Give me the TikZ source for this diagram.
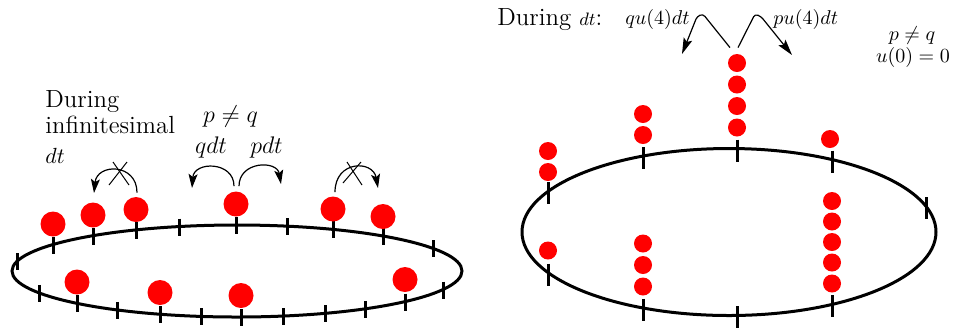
\documentclass[tikz,border=0pt]{standalone}
\usetikzlibrary{arrows.meta}
\begin{document}
\begin{tikzpicture}[x=0.5pt,y=-0.5pt,
  ring/.style={line width=1.5pt},
  tickmark/.style={line width=1.5pt},
  ballL/.style={circle,fill=red,inner sep=0pt,minimum size=12.5pt},
  ballR/.style={circle,fill=red,inner sep=0pt,minimum size=9pt},
  hop/.style={line width=0.6pt,-{Stealth[length=7pt,width=4.5pt,inset=1.5pt]}},
  jump/.style={line width=0.6pt,rounded corners=1.5pt,-{Stealth[length=8pt,width=4.5pt,inset=1.5pt]}},
  crossline/.style={line width=0.5pt},
  lbl/.style={inner sep=0pt},
  bigtext/.style={font=\fontsize{12.4}{14}\selectfont},
  midmath/.style={font=\fontsize{12}{14}\selectfont},
  smallmath/.style={font=\fontsize{10}{12}\selectfont}]
\useasboundingbox (0,0) rectangle (953,329);

% ---------------- left ring ----------------
\draw[ring] (237,271) ellipse [x radius=112.5pt, y radius=23pt];
\foreach \x in {17,53,93,136,179,236,287,333,383,433} {
  \pgfmathsetmacro\ey{271-46*sqrt(1-((\x-237)/225)^2)}
  \draw[tickmark] (\x,\ey-8) -- (\x,\ey+9);
}
\foreach \x in {39,77,117,160,201,241,283,325,365,405,443} {
  \pgfmathsetmacro\ey{271+46*sqrt(1-((\x-237)/225)^2)}
  \draw[tickmark] (\x,\ey-8) -- (\x,\ey+9);
}
% particles
\node[ballL] (La) at (53,224) {};
\node[ballL] (Lb) at (93,215) {};
\node[ballL] (Lc) at (136,209.5) {};
\node[ballL] (Ld) at (236,204) {};
\node[ballL] (Le) at (333,209) {};
\node[ballL] (Lf) at (383,216.5) {};
\node[ballL] (Lg) at (77,282) {};
\node[ballL] (Lh) at (160,292.5) {};
\node[ballL] (Li) at (241,295.5) {};
\node[ballL] (Lj) at (405,279.5) {};

% hops
\coordinate (LcEnd) at (94,193);
\draw[hop] ([xshift=0.5pt,yshift=2pt]Lc.north) .. controls (137,163) and (97,163) .. (LcEnd);
\draw[crossline] (113,162) -- (129,185);
\draw[crossline] (127,162) -- (109,185);

\coordinate (LdL) at (192,188);
\coordinate (LdR) at (281,184);
\draw[hop] ([xshift=-1pt,yshift=2.5pt]Ld.north) .. controls (234,161) and (194,161) .. (LdL);
\draw[hop] ([xshift=1.5pt,yshift=2.5pt]Ld.north) .. controls (239,161) and (277,160) .. (LdR);

\coordinate (LeEnd) at (378,188);
\draw[hop] ([xshift=1pt,yshift=2pt]Le.north) .. controls (335,160) and (373,160) .. (LeEnd);
\draw[crossline] (347,162) -- (362,185);
\draw[crossline] (361,162) -- (343,183);

% labels left
\node[lbl,bigtext,anchor=base west] (tDuring) at (45,107) {During};
\node[lbl,bigtext,anchor=base west] (tInf) at (45,133) {infinitesimal};
\node[lbl,anchor=base west,font=\fontsize{10.5}{12}\selectfont] (tdt) at (45,163) {$dt$};
\node[lbl,midmath,anchor=base] (tpq) at (230.5,122) {$p\neq q$};
\node[lbl,midmath,anchor=base] (tqdt) at (211,153) {$qdt$};
\node[lbl,midmath,anchor=base] (tpdt) at (266.5,153) {$pdt$};

% ---------------- right ring ----------------
\draw[ring] (729,232) ellipse [x radius=103.5pt, y radius=41.75pt];
\foreach \x in {548,643,737,832,926} {
  \pgfmathsetmacro\ey{232-83.5*sqrt(1-((\x-729)/207)^2)}
  \draw[tickmark] (\x,\ey-9) -- (\x,\ey+13);
}
\foreach \x in {548,643,737,832} {
  \pgfmathsetmacro\ey{232+83.5*sqrt(1-((\x-729)/207)^2)}
  \draw[tickmark] (\x,\ey-9) -- (\x,\ey+13);
}
% stacks
\node[ballR] (Ra1) at (548,172) {};
\node[ballR] (Ra2) at (548,151) {};
\node[ballR] (Rb1) at (548,250.5) {};
\node[ballR] (Rc1) at (643,135) {};
\node[ballR] (Rc2) at (643,114) {};
\node[ballR] (Rd1) at (643,286.5) {};
\node[ballR] (Rd2) at (643,265) {};
\node[ballR] (Rd3) at (643,243.5) {};
\node[ballR] (Re1) at (737,127.5) {};
\node[ballR] (Re2) at (737,106) {};
\node[ballR] (Re3) at (737,84.5) {};
\node[ballR] (Re4) at (737,63) {};
\node[ballR] (Rf1) at (830,139) {};
\node[ballR] (Rg1) at (832,283.5) {};
\node[ballR] (Rg2) at (832,262.5) {};
\node[ballR] (Rg3) at (832,242) {};
\node[ballR] (Rg4) at (832,221.5) {};
\node[ballR] (Rg5) at (832,201) {};

% jumps from the top of the 4-stack
\coordinate (JL) at (682,54);
\coordinate (JR) at (792,55);
\draw[jump] ([xshift=-3.5pt,yshift=3pt]Re4.north) -- (703,14) -- (697,16.5) -- (JL);
\draw[jump] ([xshift=0.5pt,yshift=3pt]Re4.north) -- (755,14) -- (761,16.5) -- (JR);

% labels right
\node[lbl,bigtext,anchor=base west] (tDuring2) at (497,25) {During {\fontsize{9}{11}\selectfont$dt$}:};
\node[lbl,smallmath,anchor=base east] (tqu) at (690,24) {$qu(4)dt$};
\node[lbl,smallmath,anchor=base west] (tpu) at (773,24) {$pu(4)dt$};
\node[lbl,smallmath,anchor=base] (tpq2) at (912,40) {$p\neq q$};
\node[lbl,smallmath,anchor=base] (tu0) at (913,62) {$u(0)=0$};
\end{tikzpicture}
\end{document}
